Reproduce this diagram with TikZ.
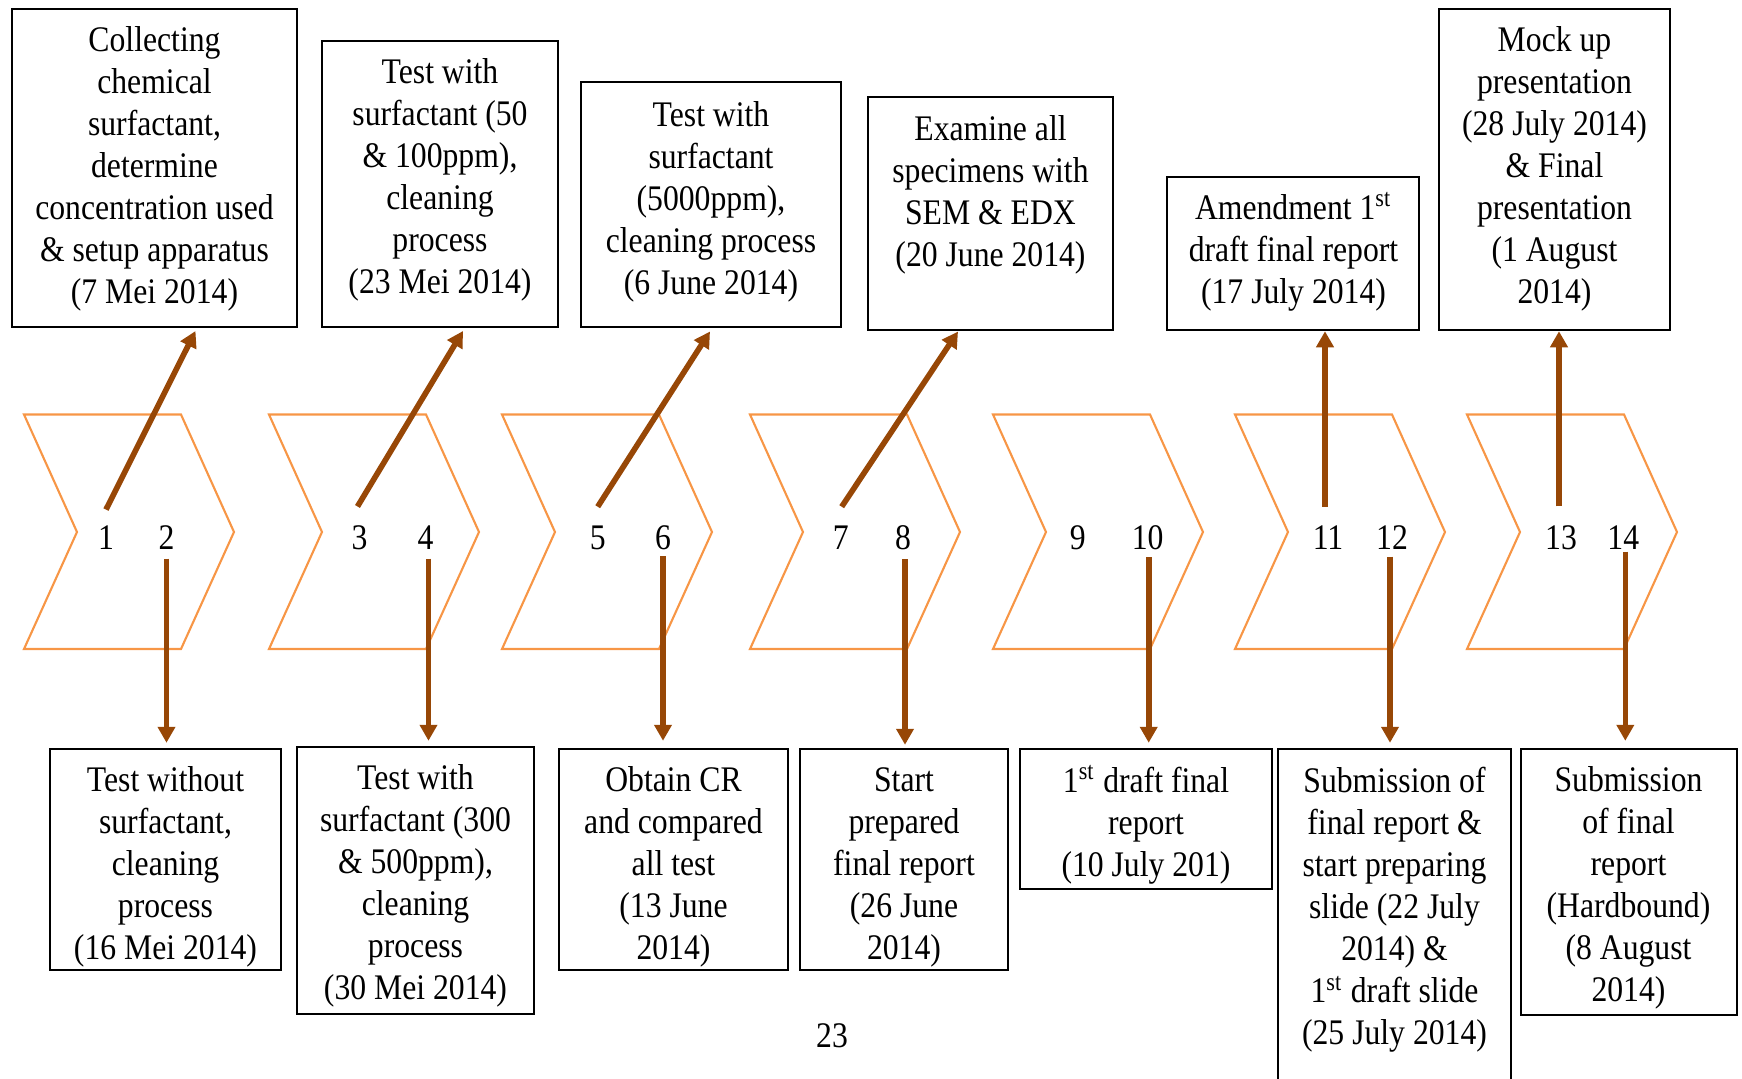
\documentclass[tikz,border=0pt]{standalone}
\usepackage{fontspec}
\setmainfont{Liberation Serif}[FakeStretch=0.88]
\usetikzlibrary{arrows.meta,fit}
\definecolor{chevorange}{HTML}{F79646}
\definecolor{arrbrown}{HTML}{974706}
\tikzset{
  box/.style={draw=black, line width=0.7pt, inner sep=0pt},
  txt/.style={align=center, inner sep=0pt, font=\fontsize{10.24}{11.95}\selectfont},
  num/.style={inner sep=0pt, anchor=base, font=\fontsize{10.24}{11.95}\selectfont},
  chev/.style={draw=chevorange, line width=0.6pt, line join=miter},
  arr/.style={draw=arrbrown, line width=1.6pt, -{Triangle[width=0.17cm,length=0.16cm]}}
}
\newcommand{\chevronat}[1]{%
  \draw[chev] (#1,414.5) -- (#1+157,414.5) -- (#1+210,532) -- (#1+157,649) -- (#1,649) -- (#1+53,532) -- cycle;}
\begin{document}
\begin{tikzpicture}[x=0.01cm, y=-0.01cm]
\useasboundingbox (0,0) rectangle (1742,1078);
\clip (0,0) rectangle (1742,1078);

% chevrons
\foreach \L in {24,269,502,750,993,1235,1467}{\chevronat{\L}}

% top boxes
\node[box, fit={(12,9) (297,327)}] (b1) {};
\node[box, fit={(322,41) (558,327)}] (b2) {};
\node[box, fit={(581,82) (841,327)}] (b3) {};
\node[box, fit={(868,97) (1113,330)}] (b4) {};
\node[box, fit={(1167,177) (1419,330)}] (b5) {};
\node[box, fit={(1439,9) (1670,330)}] (b6) {};

\node[txt] (t1) at (154.5,169) {Collecting\\chemical\\surfactant,\\determine\\concentration used\\\& setup apparatus\\(7 Mei 2014)};
\node[txt] (t2) at (440,180) {Test with\\surfactant (50\\\& 100ppm),\\cleaning\\process\\(23 Mei 2014)};
\node[txt] (t3) at (711,202) {Test with\\surfactant\\(5000ppm),\\cleaning process\\(6 June 2014)};
\node[txt] (t4) at (990.5,195) {Examine all\\specimens with\\SEM \& EDX\\(20 June 2014)};
\node[txt] (t5) at (1293.5,252) {Amendment 1\textsuperscript{st}\\draft final report\\(17 July 2014)};
\node[txt] (t6) at (1554.5,169) {Mock up\\presentation\\(28 July 2014)\\\& Final\\presentation\\(1 August\\2014)};

% bottom boxes
\node[box, fit={(50,749) (281,970)}] (d1) {};
\node[box, fit={(297,747) (534,1014)}] (d2) {};
\node[box, fit={(559,749) (788,970)}] (d3) {};
\node[box, fit={(800,749) (1008,970)}] (d4) {};
\node[box, fit={(1020,749) (1272,889)}] (d5) {};
\node[box, fit={(1278,749) (1511,1110)}] (d6) {};
\node[box, fit={(1521,749) (1737,1015)}] (d7) {};

\node[txt] (s1) at (165.5,867) {Test without\\surfactant,\\cleaning\\process\\(16 Mei 2014)};
\node[txt] (s2) at (415.5,886) {Test with\\surfactant (300\\\& 500ppm),\\cleaning\\process\\(30 Mei 2014)};
\node[txt] (s3) at (673.5,867) {Obtain CR\\and compared\\all test\\(13 June\\2014)};
\node[txt] (s4) at (904,867) {Start\\prepared\\final report\\(26 June\\2014)};
\node[txt] (s5) at (1146,825) {1\textsuperscript{st} draft final\\report\\(10 July 201)};
\node[txt] (s6) at (1394.5,910) {Submission of\\final report \&\\start preparing\\slide (22 July\\2014) \&\\1\textsuperscript{st} draft slide\\(25 July 2014)};
\node[txt] (s7) at (1628.5,888) {Submission\\of final\\report\\(Hardbound)\\(8 August\\2014)};

% numbers
\node[num] (n1) at (106,549) {1};
\node[num] (n2) at (166.5,549) {2};
\node[num] (n3) at (359.5,549) {3};
\node[num] (n4) at (425.5,549) {4};
\node[num] (n5) at (597.7,549) {5};
\node[num] (n6) at (663,549) {6};
\node[num] (n7) at (840.7,549) {7};
\node[num] (n8) at (903,549) {8};
\node[num] (n9) at (1077.7,549) {9};
\node[num] (n10) at (1147.7,549) {10};
\node[num] (n11) at (1328,549) {11};
\node[num] (n12) at (1392,549) {12};
\node[num] (n13) at (1561,549) {13};
\node[num] (n14) at (1623.3,549) {14};

\node[txt] (pg) at (832,1036) {23};

% arrow targets on the top boxes
\coordinate (a1) at (195.5,331);
\coordinate (a3) at (463,331);
\coordinate (a5) at (710,331.5);
\coordinate (a7) at (958,331.5);

% up arrows
\draw[arr] ([yshift=0.15cm]n1.north) -- (a1);
\draw[arr] ([xshift=-0.02cm,yshift=0.18cm]n3.north) -- (a3);
\draw[arr] ([yshift=0.18cm]n5.north) -- (a5);
\draw[arr] ([xshift=0.01cm,yshift=0.18cm]n7.north) -- (a7);
\draw[arr] ([xshift=-0.03cm,yshift=0.18cm]n11.north) -- ([xshift=-0.03cm]n11.north |- b5.south);
\draw[arr] ([xshift=-0.02cm,yshift=0.18cm]n13.north) -- ([xshift=-0.02cm]n13.north |- b6.south);

% down arrows
\draw[arr, shorten >=0.05cm] ([yshift=-0.09cm]n2.south) -- (n2.south |- d1.north);
\draw[arr, shorten >=0.05cm] ([xshift=0.03cm,yshift=-0.09cm]n4.south) -- ([xshift=0.03cm]n4.south |- d2.north);
\draw[arr, shorten >=0.07cm] ([yshift=-0.06cm]n6.south) -- (n6.south |- d3.north);
\draw[arr, shorten >=0.03cm] ([xshift=0.02cm,yshift=-0.09cm]n8.south) -- ([xshift=0.02cm]n8.south |- d4.north);
\draw[arr, shorten >=0.05cm] ([xshift=0.01cm,yshift=-0.07cm]n10.south) -- ([xshift=0.01cm]n10.south |- d5.north);
\draw[arr, shorten >=0.05cm] ([xshift=-0.02cm,yshift=-0.07cm]n12.south) -- ([xshift=-0.02cm]n12.south |- d6.north);
\draw[arr, shorten >=0.07cm] ([xshift=0.02cm,yshift=-0.02cm]n14.south) -- ([xshift=0.02cm]n14.south |- d7.north);
\end{tikzpicture}
\end{document}
